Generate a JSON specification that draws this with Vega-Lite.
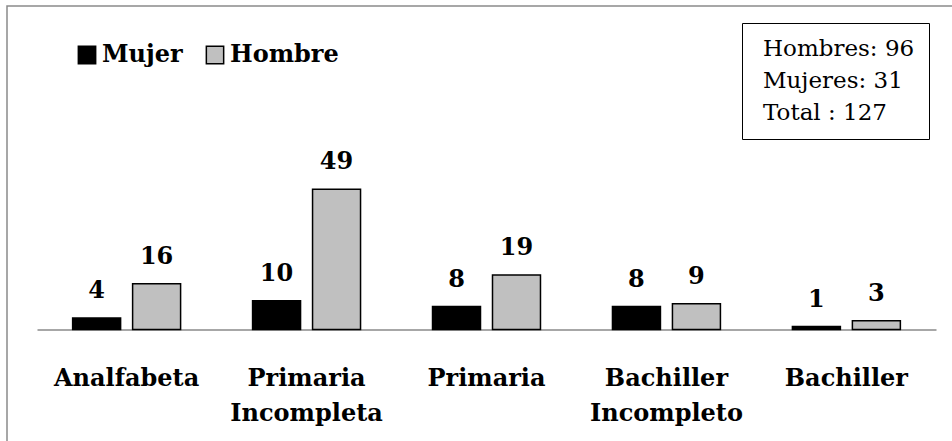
{
  "$schema": "https://vega.github.io/schema/vega-lite/v6.json",
  "autosize": "none",
  "width": 955,
  "height": 445,
  "padding": {"left": 7, "top": 6, "right": 0, "bottom": 0},
  "background": "white",
  "config": {
    "font": "DejaVu Serif",
    "view": {"stroke": "#8a8a8a", "strokeWidth": 1.5}
  },
  "layer": [
    {
      "data": {
        "values": [
          {"nivel": "Analfabeta", "sexo": "Mujer", "n": 4},
          {"nivel": "Analfabeta", "sexo": "Hombre", "n": 16},
          {"nivel": "Primaria Incompleta", "sexo": "Mujer", "n": 10},
          {"nivel": "Primaria Incompleta", "sexo": "Hombre", "n": 49},
          {"nivel": "Primaria", "sexo": "Mujer", "n": 8},
          {"nivel": "Primaria", "sexo": "Hombre", "n": 19},
          {"nivel": "Bachiller Incompleto", "sexo": "Mujer", "n": 8},
          {"nivel": "Bachiller Incompleto", "sexo": "Hombre", "n": 9},
          {"nivel": "Bachiller", "sexo": "Mujer", "n": 1},
          {"nivel": "Bachiller", "sexo": "Hombre", "n": 3}
        ]
      },
      "encoding": {
        "x": {
          "field": "nivel",
          "type": "nominal",
          "sort": null,
          "scale": {"range": [30, 929], "paddingInner": 0.4, "paddingOuter": 0.198},
          "axis": {
            "title": null,
            "orient": "bottom",
            "offset": -121.5,
            "domainColor": "#8a8a8a",
            "domainWidth": 1.5,
            "ticks": false,
            "tickSize": 0,
            "labelAngle": 0,
            "labelFont": "DejaVu Serif",
            "labelFontWeight": "bold",
            "labelFontSize": 24,
            "labelColor": "#000000",
            "labelBaseline": "alphabetic",
            "labelPadding": 56,
            "labelLineHeight": 35,
            "labelLimit": 300,
            "labelExpr": "split(datum.label, ' ')"
          }
        },
        "xOffset": {
          "field": "sexo",
          "type": "nominal",
          "sort": ["Mujer", "Hombre"],
          "scale": {"paddingInner": 0.2}
        },
        "y": {
          "field": "n",
          "type": "quantitative",
          "scale": {"domain": [-42.5, 113.1], "nice": false, "zero": false},
          "axis": null
        }
      },
      "layer": [
        {
          "mark": {"type": "bar", "stroke": "#000000", "strokeWidth": 1.5},
          "encoding": {
            "color": {
              "field": "sexo",
              "type": "nominal",
              "scale": {"domain": ["Mujer", "Hombre"], "range": ["#000000", "#C0C0C0"]},
              "legend": {
                "title": null,
                "orient": "none",
                "legendX": 68,
                "legendY": 37,
                "direction": "horizontal",
                "symbolType": "square",
                "symbolSize": 300,
                "symbolStrokeColor": "#000000",
                "symbolStrokeWidth": 1.5,
                "symbolOpacity": 1,
                "labelFont": "DejaVu Serif",
                "labelFontWeight": "bold",
                "labelFontSize": 24,
                "labelColor": "#000000",
                "labelOffset": 3,
                "columnPadding": 20,
                "padding": 0
              }
            }
          }
        },
        {
          "mark": {
            "type": "text",
            "font": "DejaVu Serif",
            "fontWeight": "bold",
            "fontSize": 24,
            "baseline": "alphabetic",
            "dy": -20,
            "color": "#000000"
          },
          "encoding": {
            "text": {"field": "n", "type": "quantitative"}
          }
        }
      ]
    },
    {
      "data": {
        "values": [
          {"resumen": "Hombres: 96"},
          {"resumen": "Mujeres: 31"},
          {"resumen": "Total : 127"}
        ]
      },
      "mark": {"type": "point", "opacity": 0},
      "encoding": {
        "shape": {
          "field": "resumen",
          "type": "nominal",
          "legend": {
            "title": null,
            "orient": "none",
            "legendX": 735,
            "legendY": 17,
            "direction": "vertical",
            "strokeColor": "#000000",
            "padding": 14,
            "symbolSize": 0,
            "symbolOpacity": 0,
            "symbolStrokeWidth": 0,
            "labelOffset": -16,
            "labelFont": "DejaVu Serif",
            "labelFontSize": 23,
            "labelColor": "#000000",
            "rowPadding": 8,
            "labelLimit": 400,
            "labelExpr": "datum.label + '     '"
          }
        }
      }
    }
  ]
}
